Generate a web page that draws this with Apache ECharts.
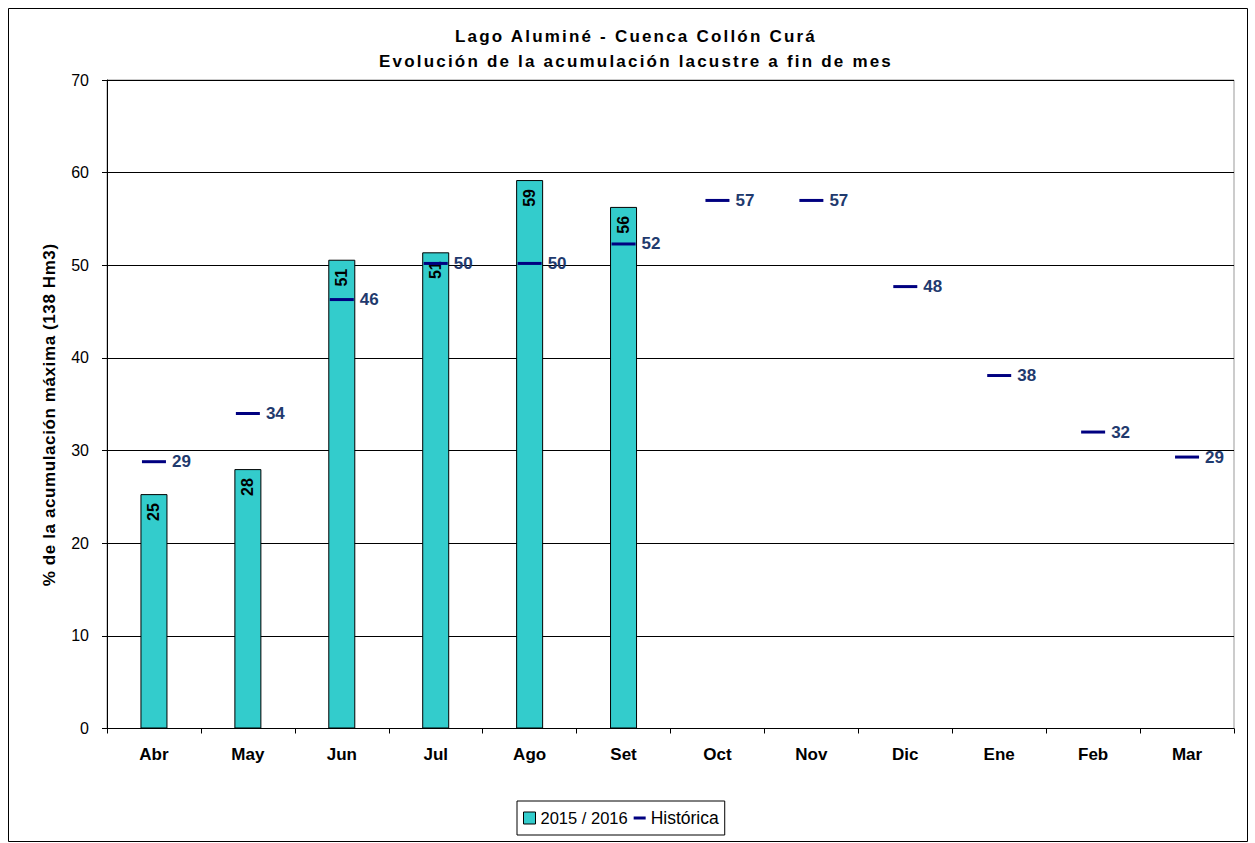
<!DOCTYPE html>
<html><head><meta charset="utf-8">
<script src="https://cdn.jsdelivr.net/npm/echarts@6/dist/echarts.min.js"></script>
<style>
html,body{margin:0;padding:0;background:#fff}
#c{width:1255px;height:843px}
#c text[style*="ttlfont"]{letter-spacing:2.2px}
#c text[style*="ynamefont"]{letter-spacing:0.6px}
</style>
</head><body><div id="c"></div>
<script>
const categories = ['Abr','May','Jun','Jul','Ago','Set','Oct','Nov','Dic','Ene','Feb','Mar'];
const actual = [25.3, 28.0, 50.6, 51.4, 59.2, 56.3, null, null, null, null, null, null];
const historica = [28.8, 34.0, 46.3, 50.2, 50.2, 52.3, 57.0, 57.0, 47.7, 38.1, 32.0, 29.3];
const seriesNames = ['2015 / 2016', 'Histórica'];
const titleLines = ['Lago Aluminé - Cuenca Collón Curá', 'Evolución de la acumulación lacustre a fin de mes'];
const yAxisName = '% de la acumulación máxima (138 Hm3)';

const FONT = '"Liberation Sans", Arial, sans-serif';
const chart = echarts.init(document.getElementById('c'), null, {renderer: 'svg'});
chart.setOption({
  animation: false,
  backgroundColor: '#fff',
  textStyle: {fontFamily: FONT},
  graphic: [{type: 'rect', shape: {x: 8.5, y: 8.5, width: 1239, height: 833}, style: {fill: 'none', stroke: '#000', lineWidth: 1}, z: -10},
            {type: 'rect', shape: {x: 107, y: 80, width: 1127, height: 648.5}, style: {fill: 'none', stroke: '#999', lineWidth: 1}, z: -5}],
  title: {
    text: titleLines.join('\n'),
    left: 631, top: 19, textAlign: 'center',
    textStyle: {fontFamily: 'ttlfont, "Liberation Sans", sans-serif', fontSize: 17, fontWeight: 'bold', color: '#000', lineHeight: 25}
  },
  grid: {left: 107, right: 21, top: 80, bottom: 114.5, containLabel: false},
  legend: {
    left: 517, top: 801,
    orient: 'horizontal',
    borderColor: '#000', borderWidth: 1, padding: [8, 6, 8, 6],
    itemGap: 6, itemWidth: 12, itemHeight: 12,
    textStyle: {fontFamily: FONT, fontSize: 16, color: '#000'},
    data: [
      {name: seriesNames[0], icon: 'rect', itemStyle: {color: '#33CCCC', borderColor: '#000', borderWidth: 1},
        textStyle: {width: 88, fontSize: 16.5}},
      {name: seriesNames[1], icon: 'path://M0,0L0.01,0M0,4.5L12,4.5L12,7.5L0,7.5ZM0,12L0.01,12', itemStyle: {color: '#000080', borderWidth: 0},
        textStyle: {width: 74, fontSize: 17.5}}
    ]
  },
  xAxis: {
    type: 'category', data: categories,
    axisLine: {lineStyle: {color: '#000', width: 1}},
    axisTick: {show: true, length: 5, inside: false, lineStyle: {color: '#000'}},
    axisLabel: {fontFamily: FONT, fontSize: 17, fontWeight: 'bold', color: '#000', margin: 17},
    splitLine: {show: false}
  },
  yAxis: {
    type: 'value', min: 0, max: 70, interval: 10,
    name: yAxisName, nameLocation: 'middle', nameGap: 49, nameRotate: 90,
    nameTextStyle: {fontFamily: 'ynamefont, "Liberation Sans", sans-serif', fontSize: 17, fontWeight: 'bold', color: '#000', padding: [0, 21, 0, 0]},
    axisLine: {show: true, lineStyle: {color: '#000', width: 1}},
    axisTick: {show: true, length: 5, lineStyle: {color: '#000'}},
    axisLabel: {fontFamily: FONT, fontSize: 16, color: '#000', margin: 18},
    splitLine: {show: true, lineStyle: {color: '#000', width: 1}}
  },
  series: [
    {
      name: seriesNames[0], type: 'bar', data: actual, barWidth: 27, barGap: '-100%',
      itemStyle: {color: '#33CCCC', borderColor: '#000', borderWidth: 1},
      label: {show: true, position: 'insideTop', rotate: 90, align: 'right', verticalAlign: 'middle', distance: 9,
        formatter: p => Math.round(p.value), fontFamily: FONT, fontSize: 16, fontWeight: 'bold', color: '#000'},
      z: 2
    },
    {
      name: seriesNames[1], type: 'scatter', data: historica,
      symbol: 'rect', symbolSize: [24, 3],
      itemStyle: {color: '#000080', opacity: 1},
      label: {show: true, position: 'right', distance: 6, formatter: p => Math.round(p.value),
        fontFamily: FONT, fontSize: 17, fontWeight: 'bold', color: '#1F3A6E'},
      z: 3
    }
  ]
});
</script></body></html>
